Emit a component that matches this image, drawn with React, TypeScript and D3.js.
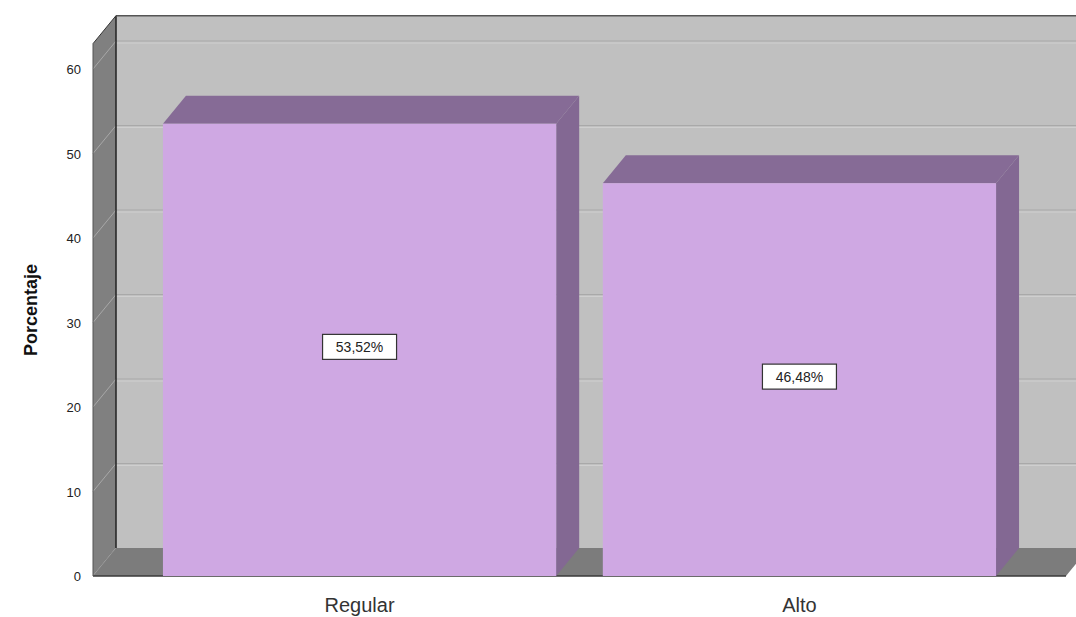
import React from "react";
import * as d3 from "d3";

const categories = ["Regular", "Alto"];
const values = [53.52, 46.48];
const valueLabels = ["53,52%", "46,48%"];
const yTicks = [0, 10, 20, 30, 40, 50, 60];
const yMax = 63;

const W = 1076;
const H = 617;
const DX = 23;
const DY = 28;

export default function App() {
  const x0 = 93;
  const x1 = 1066;
  const yBase = 576;
  const y = d3.scaleLinear().domain([0, yMax]).range([yBase, yBase - yMax * 8.45]);
  const xb = d3
    .scaleBand<string>()
    .domain(categories)
    .range([x0, x1])
    .paddingInner(0.106)
    .paddingOuter(0.159);
  const yTop = y(yMax);
  const pts = (a: number[][]) => a.map((p) => p.join(",")).join(" ");

  return (
    <svg
      width={W}
      height={H}
      style={{ position: "absolute", left: 0, top: 0, background: "#fff" }}
      fontFamily="Liberation Sans, Arial, sans-serif"
    >
      {/* back wall */}
      <rect x={x0 + DX} y={yTop - DY} width={x1 - x0} height={yBase - yTop} fill="#c0c0c0" />
      {yTicks
        .filter((t) => t > 0)
        .map((t) => (
          <g key={"g" + t}>
            <line x1={x0 + DX} x2={x1 + DX} y1={y(t) - DY} y2={y(t) - DY} stroke="#a9a9a9" strokeWidth={1} />
            <line x1={x0 + DX} x2={x1 + DX} y1={y(t) - DY + 2} y2={y(t) - DY + 2} stroke="#cfcfcf" strokeWidth={1} />
          </g>
        ))}
      {/* left wall */}
      <polygon
        points={pts([
          [x0, yTop],
          [x0 + DX, yTop - DY],
          [x0 + DX, yBase - DY],
          [x0, yBase],
        ])}
        fill="#808080"
      />
      {yTicks.map((t) => (
        <line key={"d" + t} x1={x0} y1={y(t)} x2={x0 + DX} y2={y(t) - DY} stroke="#a8a8a8" strokeWidth={1} />
      ))}
      {/* floor */}
      <polygon
        points={pts([
          [x0, yBase],
          [x0 + DX, yBase - DY],
          [x1 + DX, yBase - DY],
          [x1, yBase],
        ])}
        fill="#7c7c7c"
      />
      <line x1={x0} x2={x1} y1={yBase} y2={yBase} stroke="#3a3a3a" strokeWidth={1.5} />
      {/* wall edges */}
      <line x1={x0 + DX} x2={x0 + DX} y1={yTop - DY} y2={yBase - DY} stroke="#222" strokeWidth={1.5} />
      <line x1={x0 + DX} x2={x1 + DX} y1={yTop - DY} y2={yTop - DY} stroke="#555" strokeWidth={1.5} />
      <line x1={x0} x2={x0 + DX} y1={yTop} y2={yTop - DY} stroke="#333" strokeWidth={1} />
      <line x1={x0} x2={x0} y1={yTop} y2={yBase} stroke="#555" strokeWidth={1} />

      {/* bars */}
      {categories.map((c, i) => {
        const bx = xb(c)!;
        const bw = xb.bandwidth();
        const by = y(values[i]);
        return (
          <g key={c}>
            <polygon
              points={pts([
                [bx + bw, by],
                [bx + bw + DX, by - DY],
                [bx + bw + DX, yBase - DY],
                [bx + bw, yBase],
              ])}
              fill="#836893"
            />
            <polygon
              points={pts([
                [bx, by],
                [bx + DX, by - DY],
                [bx + bw + DX, by - DY],
                [bx + bw, by],
              ])}
              fill="#866b96"
            />
            <rect x={bx} y={by} width={bw} height={yBase - by} fill="#cfa8e3" />
          </g>
        );
      })}

      {/* value labels */}
      {categories.map((c, i) => {
        const cx = xb(c)! + xb.bandwidth() / 2;
        const cy = (y(values[i]) + yBase) / 2 - 3;
        return (
          <g key={"v" + c}>
            <rect x={cx - 37} y={cy - 12.5} width={74} height={25} fill="#fff" stroke="#333" strokeWidth={1.2} />
            <text x={cx} y={cy + 5} textAnchor="middle" fontSize={14} fill="#222">
              {valueLabels[i]}
            </text>
          </g>
        );
      })}

      {/* y tick labels */}
      {yTicks.map((t) => (
        <text key={"t" + t} x={81} y={y(t) + 5} textAnchor="end" fontSize={13} fill="#222">
          {t}
        </text>
      ))}

      {/* category labels */}
      {categories.map((c) => (
        <text key={"c" + c} x={xb(c)! + xb.bandwidth() / 2} y={612} textAnchor="middle" fontSize={20} fill="#333">
          {c}
        </text>
      ))}

      <text
        transform={`translate(37,${310}) rotate(-90)`}
        textAnchor="middle"
        fontSize={18}
        fontWeight="bold"
        fill="#111"
      >
        Porcentaje
      </text>
    </svg>
  );
}
